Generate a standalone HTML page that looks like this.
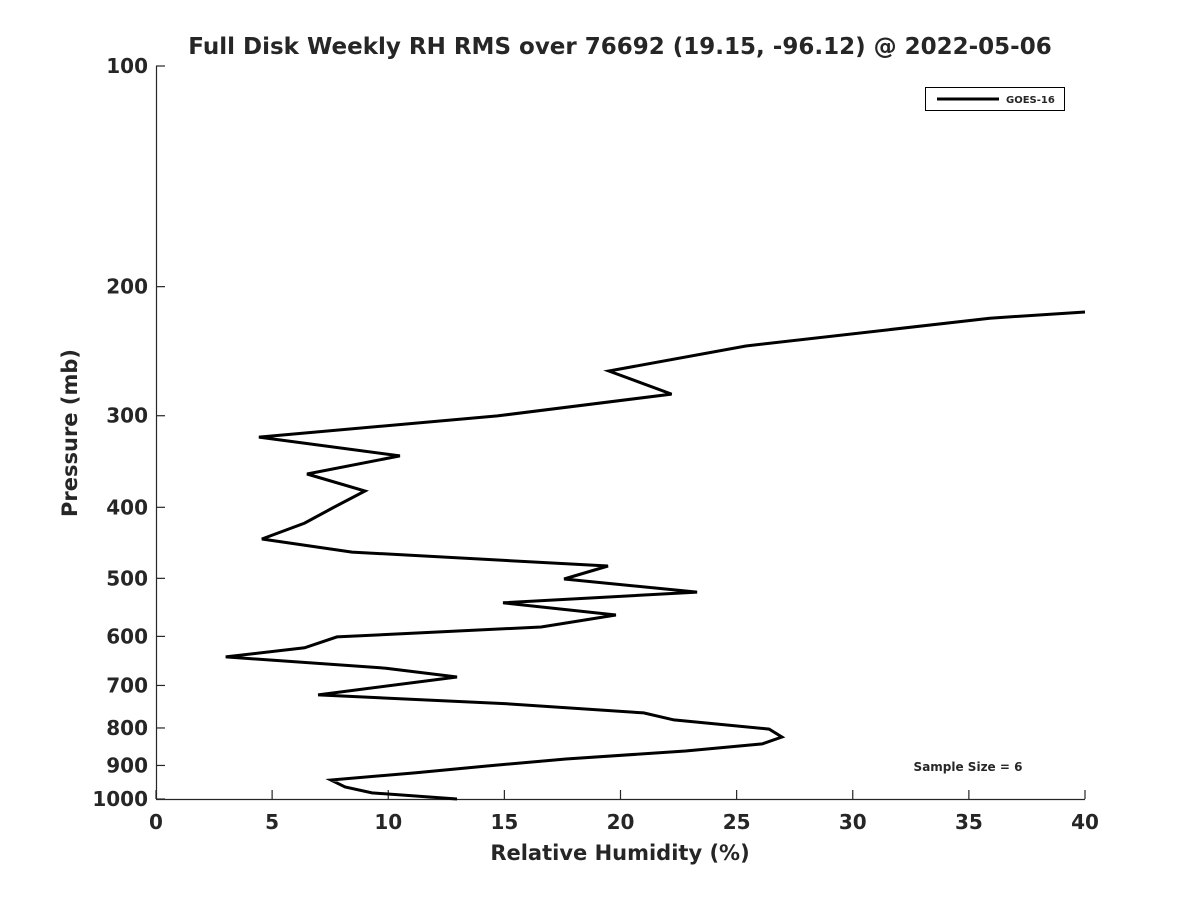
<!DOCTYPE html>
<html><head><meta charset="utf-8"><style>
body{margin:0;background:#fff}
svg text{font-family:"DejaVu Sans","Liberation Sans",sans-serif;font-weight:bold;fill:#262626}
</style></head><body>
<svg id="chart" width="1200" height="900" xmlns="http://www.w3.org/2000/svg">
<rect width="1200" height="900" fill="#fff"/>
<text x="620" y="54" text-anchor="middle" font-size="23">Full Disk Weekly RH RMS over 76692 (19.15, -96.12) @ 2022-05-06</text>
<g id="axes"></g>
<path id="series" fill="none" stroke="#000" stroke-width="3" stroke-linejoin="miter"/>
<g>
<rect x="925.5" y="87.5" width="139" height="23" fill="#fff" stroke="#000" stroke-width="1"/>
<line x1="937" y1="99" x2="999" y2="99" stroke="#000" stroke-width="3"/>
<text x="1006" y="103" font-size="10">GOES-16</text>
</g>
<text x="968" y="771" text-anchor="middle" font-size="12">Sample Size = 6</text>
<text x="620" y="860" text-anchor="middle" font-size="21">Relative Humidity (%)</text>
<text transform="translate(77,433) rotate(-90)" text-anchor="middle" font-size="21">Pressure (mb)</text>
</svg>
<script>
const xTicks=[0,5,10,15,20,25,30,35,40];
const yTicks=[100,200,300,400,500,600,700,800,900,1000];
const rh=[40,35.9,25.4,19.5,22.2,14.7,4.43,10.5,6.5,9.0,7.6,6.4,4.56,8.44,19.46,17.57,23.3,14.94,19.8,16.58,7.79,6.4,3.0,9.9,12.96,6.98,15.0,21.0,22.3,26.4,26.95,26.1,22.8,17.65,14.25,11.2,7.53,8.14,9.3,12.96];
const pres=[216.6,220.8,241,260.7,280.3,300.2,320.8,340.4,360.3,380,400.9,420.3,441.8,460.4,481,501,522,540,561,582.6,601,622,640,663,681.6,721,741,763,780,802.8,823,841,860,882,901.6,921,942,962.9,981,1000];
const L=156,R=1085,T=66,B=799;
function xs(v){return L+(v-0)/40*(R-L);}
function ys(p){return T+(Math.log10(p)-2)*(B-T);}
const ns="http://www.w3.org/2000/svg";
const ax=document.getElementById('axes');
function mk(tag,attrs){const e=document.createElementNS(ns,tag);for(const k in attrs)e.setAttribute(k,attrs[k]);return e;}
const xl=mk('line',{x1:L,y1:B+0.5,x2:R,y2:B+0.5,stroke:'#262626','stroke-width':1.2});


ax.appendChild(xl);
const yl=mk('line',{x1:L+0.5,y1:T,x2:L+0.5,y2:B,stroke:'#262626','stroke-width':1.2});


ax.appendChild(yl);
xTicks.forEach(v=>{
  const x=xs(v);
  const t=mk('line',{x1:x,y1:B,x2:x,y2:B-9,stroke:'#262626','stroke-width':1.2});
  
  
  ax.appendChild(t);
  const l=mk('text',{x:x,y:B+30,'text-anchor':'middle','font-size':20});
  l.textContent=v;
  
  
  ax.appendChild(l);
});
yTicks.forEach(v=>{
  const y=ys(v);
  const t=mk('line',{x1:L,y1:y,x2:L+9,y2:y,stroke:'#262626','stroke-width':1.2});
  
  
  ax.appendChild(t);
  const l=mk('text',{x:L-8,y:y+7,'text-anchor':'end','font-size':20});
  l.textContent=v;
  
  
  ax.appendChild(l);
});
document.getElementById('series').setAttribute('d',rh.map((v,i)=>(i?'L':'M')+xs(v).toFixed(1)+','+ys(pres[i]).toFixed(1)).join(' '));
</script>
</body></html>
